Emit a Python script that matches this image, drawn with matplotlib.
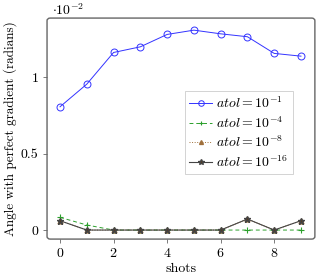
import matplotlib
matplotlib.use("Agg")
import matplotlib.pyplot as plt
from matplotlib.patches import FancyBboxPatch
import numpy as np

matplotlib.rcParams.update({'font.size': 10, 'font.family': 'serif',
                            'font.serif': ['cmr10', 'DejaVu Serif'],
                            'mathtext.fontset': 'cm',
                            'axes.formatter.use_mathtext': True})

shots = [0, 1, 2, 3, 4, 5, 6, 7, 8, 9]
# values in units of 1e-2 radians
atol_1 = [0.806, 0.954, 1.161, 1.198, 1.279, 1.307, 1.283, 1.264, 1.155, 1.137]
atol_4 = [0.083, 0.033, 0.0, 0.0, 0.0, 0.0, 0.0, 0.0, 0.0, 0.0]
atol_8 = [0.061, 0.0, 0.0, 0.0, 0.0, 0.0, 0.0, 0.072, 0.0, 0.061]
atol_16 = [0.061, 0.0, 0.0, 0.0, 0.0, 0.0, 0.0, 0.072, 0.0, 0.061]

fig = plt.figure(figsize=(3.2, 2.78), dpi=100)
ax = fig.add_axes([0.147, 0.14, 0.837, 0.795])

ax.plot(shots, atol_1, color='#3333ff', lw=0.7, marker='o', ms=5,
        mfc='none', mew=0.7, label=r'$atol = 10^{-1}$')
ax.plot(shots, atol_4, color='#2ca02c', lw=0.7, ls=(0, (4, 3)), marker='+',
        ms=4, mew=0.8, label=r'$atol = 10^{-4}$')
ax.plot(shots, atol_8, color='#a0703c', lw=0.7, ls=':', marker='^', ms=3.5,
        label=r'$atol = 10^{-8}$')
ax.plot(shots, atol_16, color='#444444', lw=0.8, marker='*', ms=5,
        mfc='#5a3a1a', label=r'$atol = 10^{-16}$')

ax.set_xlim(-0.485, 9.52)
ax.set_ylim(-0.059, 1.386)
ax.set_xticks([0, 2, 4, 6, 8])
ax.set_yticks([0, 0.5, 1])
ax.set_yticklabels(['0', '0.5', '1'])
ax.tick_params(direction='out', length=3, width=0.6, color='#666666', pad=3)
for s in ax.spines.values():
    s.set_visible(False)
frame = FancyBboxPatch((0, 0), 1, 1, boxstyle='round,pad=0,rounding_size=0.012',
                       transform=ax.transAxes, fill=False, ec='#666666', lw=1.0,
                       clip_on=False)
ax.add_patch(frame)

ax.set_xlabel('shots', labelpad=2)
ax.set_ylabel('Angle with perfect gradient (radians)', labelpad=3, fontsize=9.5)
fig.text(0.163, 0.965, r'$\cdot 10^{-2}$', ha='left', va='center')

leg = ax.legend(loc='upper left', bbox_to_anchor=(0.515, 0.67), fontsize=10,
                handlelength=1.65, handletextpad=0.3, borderpad=0.3,
                borderaxespad=0, labelspacing=0.3, fancybox=False,
                framealpha=1, markerscale=0.8)
leg.get_frame().set_edgecolor('#cccccc')
leg.get_frame().set_linewidth(0.6)

plt.savefig('out.png', dpi=100)
